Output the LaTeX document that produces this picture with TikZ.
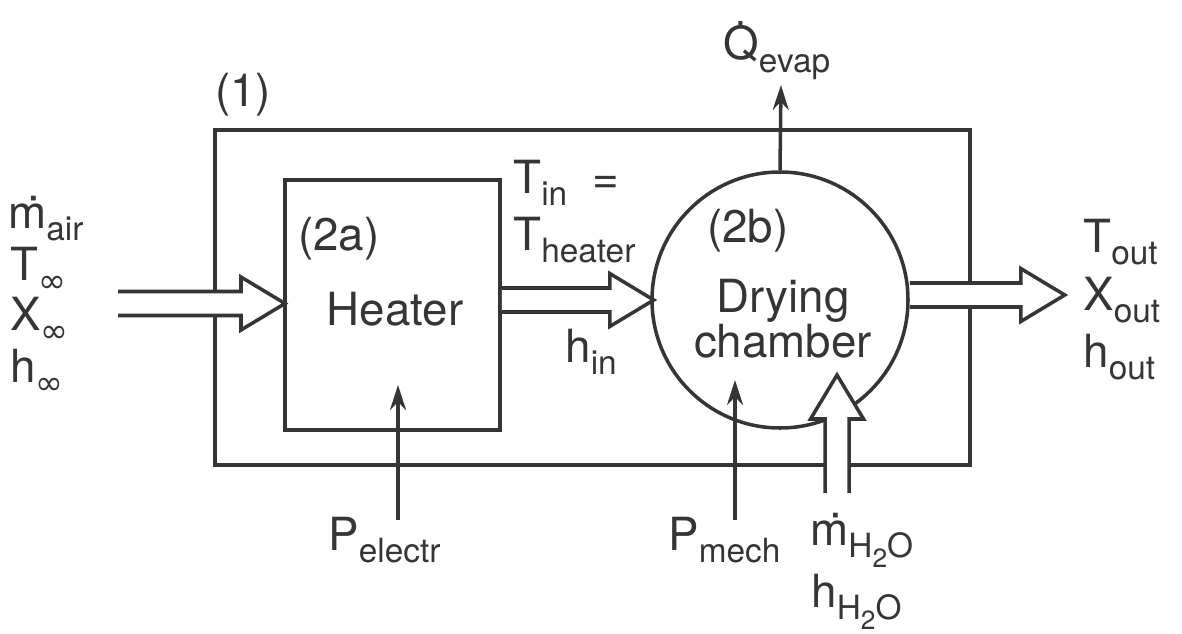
\documentclass[tikz,border=0pt]{standalone}
\usepackage{fontspec}
\setmainfont{TeX Gyre Heros}
\newfontfamily\symfont{DejaVu Sans}
\usepackage{tikz}
\usetikzlibrary{arrows.meta, positioning, calc}

\definecolor{ink}{HTML}{333633}
\newcommand{\subtxt}[1]{\raisebox{-0.28em}{\fontsize{19}{19}\selectfont #1}}
\newcommand{\subsub}[1]{\raisebox{-0.3em}{\fontsize{15}{15}\selectfont #1}}
\newcommand{\inftxt}{{\symfont\fontsize{19}{19}\selectfont ∞}}
\newcommand{\dotm}{\.{m}}
\newcommand{\dotQ}{\leavevmode\setbox0\hbox{Q}\rlap{\hbox to \wd0{\hss\smash{\raisebox{0.76em}{\fontsize{22}{22}\selectfont .}}\hss}}Q}

\begin{document}
\begin{tikzpicture}[
        % styles for the blocks
        base_text/.style={inner sep=0pt, font=\fontsize{26}{30}\selectfont, text=ink},
        lbl/.style={base_text, anchor=base west},
        block/.style={draw=ink, line width=2pt, inner sep=0pt},
        % styles for the connectors
        arrow/.style={draw=ink, line width=2pt, -{Stealth[length=0.5cm, width=0.32cm]}},
        pics/fatarrow/.style={code={
            \fill[white] (0,-0.24) -- (#1-0.88,-0.24) -- (#1-0.88,-0.53) -- (#1,0)
                -- (#1-0.88,0.53) -- (#1-0.88,0.24) -- (0,0.24) -- cycle;
            \draw[ink, line width=2pt, line join=miter]
                (0,-0.24) -- (#1-0.88,-0.24) -- (#1-0.88,-0.53) -- (#1,0)
                -- (#1-0.88,0.53) -- (#1-0.88,0.24) -- (0,0.24);
        }}
    ]
    \useasboundingbox (0,0) rectangle (23.64,12.66);

    % =========================================================================
    % SYSTEM BOUNDARIES
    % =========================================================================
    \node (system) [block, minimum width=15.10cm, minimum height=6.70cm] at (11.85,6.71) {};
    \node (sys_lbl) [lbl] at (4.30,10.52) {(1)};

    \node (heater) [block, minimum width=4.30cm, minimum height=5.00cm] at (7.85,6.56) {};
    \node (heater_lbl) [lbl] at (5.96,7.66) {(2a)};
    \node (heater_txt) [base_text, anchor=base] at (7.90,6.16) {Heater};

    \node (chamber) [block, circle, minimum size=5.12cm] at (15.60,6.66) {};
    \node (chamber_lbl) [lbl] at (14.14,7.82) {(2b)};
    \node (chamber_txt1) [base_text, anchor=base] at (15.66,6.42) {Drying};
    \node (chamber_txt2) [base_text, anchor=base] at (15.66,5.52) {chamber};

    % =========================================================================
    % AIR FLOW (hollow arrows)
    % =========================================================================
    \coordinate (air_in) at (2.36,6.59);
    \pic at (air_in) {fatarrow=3.34};
    \pic at (heater.east |- chamber.west) {fatarrow=3.04};
    \coordinate (air_out) at ($(chamber.east)+(0,0.10)$);
    \pic at (air_out) {fatarrow=3.10};

    % water supply
    \coordinate (water_in) at (16.74,2.80);
    \pic[rotate=90] at (water_in) {fatarrow=2.36};

    % =========================================================================
    % ENERGY FLOWS
    % =========================================================================
    \coordinate (q_tip) at (15.62,10.96);
    \draw [arrow] (chamber.north) -- (q_tip);

    \coordinate (pel_tail) at (7.96,2.26);
    \coordinate (pel_tip) at (7.96,4.96);
    \draw [arrow] (pel_tail) -- (pel_tip);

    \coordinate (pm_tail) at (14.70,2.26);
    \coordinate (pm_tip) at (14.70,5.06);
    \draw [arrow] (pm_tail) -- (pm_tip);

    % =========================================================================
    % STATE LABELS
    % =========================================================================
    \node (m_air) [lbl] at (0.16,8.10) {\dotm\subtxt{air}};
    \node (t_inf) [lbl] at (0.20,7.06) {T\subtxt{\inftxt}};
    \node (x_inf) [lbl] at (0.20,6.06) {X\subtxt{\inftxt}};
    \node (h_inf) [lbl] at (0.20,5.02) {h\subtxt{\inftxt}};

    \node (t_in) [lbl] at (10.26,8.80) {T\subtxt{in}\ \ =};
    \node (t_heater) [lbl] at (10.26,7.66) {T\subtxt{heater}};
    \node (h_in) [lbl] at (11.30,5.42) {h\subtxt{in}};

    \node (t_out) [lbl] at (21.66,7.62) {T\subtxt{out}};
    \node (x_out) [lbl] at (21.66,6.46) {X\subtxt{out}};
    \node (h_out) [lbl] at (21.66,5.32) {h\subtxt{out}};

    \node (q_evap) [lbl] at (14.46,11.46) {\dotQ\subtxt{evap}};
    \node (p_el) [lbl] at (6.56,1.66) {P\subtxt{electr}};
    \node (p_mech) [lbl] at (13.36,1.66) {P\subtxt{mech}};
    \node (m_water) [lbl] at (16.20,1.76) {\dotm\subtxt{H\subsub{2}O}};
    \node (h_water) [lbl] at (16.22,0.52) {h\subtxt{H\subsub{2}O}};

\end{tikzpicture}
\end{document}
